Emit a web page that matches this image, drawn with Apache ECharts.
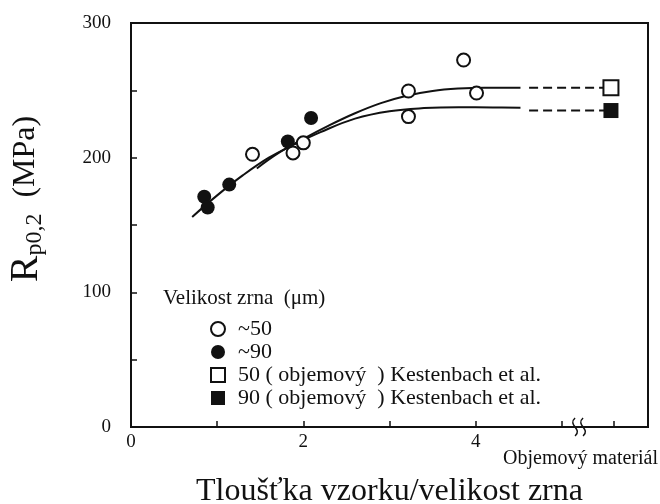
<!DOCTYPE html>
<html><head><meta charset="utf-8">
<script src="https://cdn.jsdelivr.net/npm/echarts@6.0.0/dist/echarts.min.js"></script>
<style>html,body{margin:0;padding:0;background:#fff}#c{width:660px;height:504px}</style>
</head><body><div id="c"></div>
<script>
// ---- data ----
const open50X = [1.41, 1.88, 2.0, 3.22, 3.22, 3.86, 4.01];
const open50Y = [202.5, 203.5, 211, 249.5, 230.5, 272.5, 248];
const filled90X = [0.85, 0.89, 1.14, 1.82, 2.09];
const filled90Y = [171, 163, 180, 212, 229.5];
const bulkX = 5.57;
const bulk50Y = 252;
const bulk90Y = 235;
const fit50X = [1.46, 1.7, 2.0, 2.3, 2.6, 2.9, 3.2, 3.5, 3.8, 4.1, 4.52];
const fit50Y = [192, 203, 214, 224, 233, 240.5, 246, 249.5, 251.3, 252, 252];
const fit90X = [0.71, 1.0, 1.3, 1.6, 1.9, 2.2, 2.6, 3.0, 3.4, 3.8, 4.2, 4.52];
const fit90Y = [156, 172, 187, 200, 210, 219, 229, 234.5, 236.8, 237.5, 237.3, 237];
const dashStartX = 4.62;
const bulkTickX = 5.6;
const xTickValues = [1, 2, 3, 4, 5, bulkTickX];
const xLabelValues = [0, 2, 4, bulkTickX];
const bulkLabel = 'Objemový materiál';
const yLabelValues = [0, 100, 200, 300];
const breakX = 5.2;
const legendNames = ['~50', '~90', '50 ( objemový  ) Kestenbach et al.', '90 ( objemový  ) Kestenbach et al.'];
const legendTitle = 'Velikost zrna  (μm)';
const xTitle = 'Tloušťka vzorku/velikost zrna';

// ---- chart ----
const FF = "'Liberation Serif','Times New Roman',serif";
const INK = '#111';
const zip = (xs, ys) => xs.map((x, i) => [x, ys[i]]);
const chart = echarts.init(document.getElementById('c'), null, {renderer: 'canvas'});
const option = {
  animation: false,
  backgroundColor: '#fff',
  textStyle: {fontFamily: FF, color: INK},
  title: {text: legendTitle, left: 158, top: 283, textStyle: {fontFamily: FF, fontSize: 21, fontWeight: 'normal', color: INK}},
  grid: {show: true, left: 131, right: 12, top: 23, bottom: 77, outerBoundsMode: 'none', containLabel: false,
         borderColor: INK, borderWidth: 2, backgroundColor: 'transparent'},
  legend: {
    data: legendNames, orient: 'vertical', left: 205, top: 313,
    itemWidth: 14, itemHeight: 14, itemGap: 1,
    textStyle: {fontFamily: FF, fontSize: 22, lineHeight: 22, color: INK, padding: [0, 0, 0, 8]},
    selectedMode: false
  },
  xAxis: {
    type: 'value', min: 0, max: 6, interval: 1,
    name: xTitle, nameLocation: 'middle', nameGap: 49,
    nameTextStyle: {fontFamily: FF, fontSize: 32, color: INK},
    axisLine: {show: true, lineStyle: {color: INK, width: 2}},
    axisTick: {show: true, inside: true, length: 6, customValues: xTickValues, lineStyle: {color: INK, width: 1.5}},
    axisLabel: {
      show: true, margin: 6, customValues: xLabelValues, color: INK,
      formatter: v => (Math.abs(v - bulkTickX) < 1e-6 ? '{b|' + bulkLabel + '}' : '{n|' + v + '}'),
      rich: {
        n: {fontFamily: FF, fontSize: 19, color: INK},
        b: {fontFamily: FF, fontSize: 20, color: INK, padding: [16, 66, 0, 0]}
      }
    },
    splitLine: {show: false}
  },
  yAxis: {
    type: 'value', min: 0, max: 300, interval: 50,
    axisLine: {show: true, lineStyle: {color: INK, width: 2}},
    axisTick: {show: true, inside: true, length: 6, lineStyle: {color: INK, width: 1.5}},
    axisLabel: {show: true, margin: 20, customValues: yLabelValues, fontFamily: FF, fontSize: 19, color: INK},
    splitLine: {show: false}
  },
  series: [
    {name: 'fit50', type: 'line', data: zip(fit50X, fit50Y), smooth: 0.4, showSymbol: false, silent: true,
     lineStyle: {color: INK, width: 2}, z: 2},
    {name: 'fit90', type: 'line', data: zip(fit90X, fit90Y), smooth: 0.4, showSymbol: false, silent: true,
     lineStyle: {color: INK, width: 2}, z: 2},
    {name: 'dash50', type: 'line', data: [[dashStartX, bulk50Y], [bulkX, bulk50Y]], showSymbol: false, silent: true,
     lineStyle: {color: INK, width: 2, type: [9, 5]}, z: 2},
    {name: 'dash90', type: 'line', data: [[dashStartX, bulk90Y], [bulkX, bulk90Y]], showSymbol: false, silent: true,
     lineStyle: {color: INK, width: 2, type: [9, 5]}, z: 2},
    {name: legendNames[0], type: 'scatter', data: zip(open50X, open50Y), symbol: 'circle', symbolSize: 13,
     itemStyle: {color: '#fff', borderColor: INK, borderWidth: 2, opacity: 1}, z: 5},
    {name: legendNames[1], type: 'scatter', data: zip(filled90X, filled90Y), symbol: 'circle', symbolSize: 14,
     itemStyle: {color: INK, borderColor: INK, borderWidth: 0, opacity: 1}, z: 5},
    {name: legendNames[2], type: 'scatter', data: [[bulkX, bulk50Y]], symbol: 'rect', symbolSize: 15,
     itemStyle: {color: '#fff', borderColor: INK, borderWidth: 2, opacity: 1}, z: 5},
    {name: legendNames[3], type: 'scatter', data: [[bulkX, bulk90Y]], symbol: 'rect', symbolSize: 15,
     itemStyle: {color: INK, borderColor: INK, borderWidth: 0, opacity: 1}, z: 5}
  ]
};
chart.setOption(option);

// axis break mark and rotated y title
const bp = chart.convertToPixel({gridIndex: 0}, [breakX, 0]);
const wave = {x1: 0, y1: -9, x2: 0, y2: 9, cpx1: -8, cpy1: -2, cpx2: 8, cpy2: 2};
chart.setOption({
  graphic: [
    {type: 'group', x: bp[0], y: bp[1], z: 100, children: [
      {type: 'rect', shape: {x: -4, y: -3, width: 8, height: 6}, style: {fill: '#fff'}},
      {type: 'bezierCurve', x: -4, shape: wave, style: {fill: null, stroke: INK, lineWidth: 1.5}},
      {type: 'bezierCurve', x: 4, shape: wave, style: {fill: null, stroke: INK, lineWidth: 1.5}}
    ]},
    {type: 'text', x: 26, y: 199, rotation: Math.PI / 2, z: 100,
     style: {
       text: '{r|R}{s|p0,2}{u|  (MPa)}', align: 'center', verticalAlign: 'middle', fill: INK,
       rich: {
         r: {fontFamily: FF, fontSize: 40, fill: INK},
         s: {fontFamily: FF, fontSize: 24, fill: INK, padding: [18, 0, 0, 0]},
         u: {fontFamily: FF, fontSize: 32, fill: INK}
       }
     }}
  ]
});
</script></body></html>
